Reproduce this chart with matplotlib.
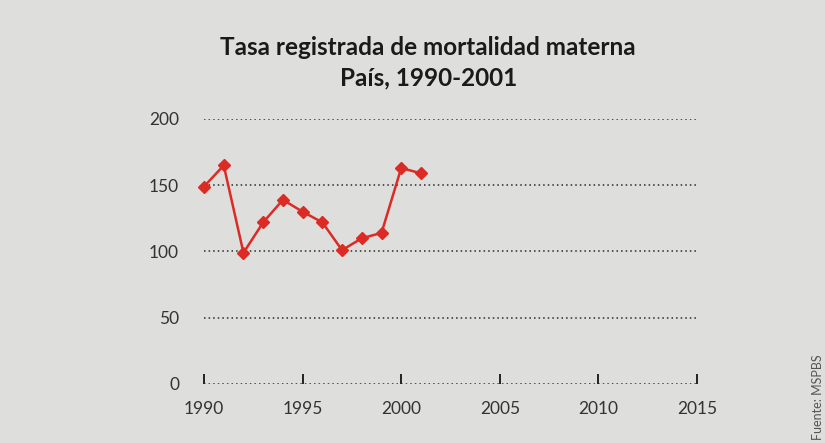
import matplotlib.pyplot as plt

# Tasa registrada de mortalidad materna, 1990-2001
years = [1990, 1991, 1992, 1993, 1994, 1995, 1996, 1997, 1998, 1999, 2000, 2001]
rate = [149, 165, 99, 122, 139, 130, 122, 101, 110, 114, 163, 159]

x_ticks = [1990, 1995, 2000, 2005, 2010, 2015]
y_ticks = [0, 50, 100, 150, 200]

bg = '#dededc'
red = '#dc2a24'

fig = plt.figure(figsize=(8.25, 4.43), dpi=100, facecolor=bg)
ax = fig.add_axes([0.2473, 0.1332, 0.5976, 0.5982], facecolor=bg)

# dotted grid lines
for y in y_ticks:
    ax.axhline(y, color='#2a2a2a', lw=1.1, linestyle=(0, (1, 2.0)), zorder=1)

ax.plot(years, rate, color=red, lw=1.8, marker='D', markersize=6,
        markerfacecolor=red, markeredgecolor=red, zorder=3, clip_on=False)

ax.set_xlim(1990, 2015)
ax.set_ylim(0, 200)
ax.set_xticks(x_ticks)
ax.set_yticks(y_ticks)
for s in ax.spines.values():
    s.set_visible(False)

ax.tick_params(axis='x', direction='in', length=7.5, width=1.4, color='#222222',
               pad=12, labelsize=12.5, labelcolor='#333333')
ax.tick_params(axis='y', length=0, pad=18, labelsize=12.5, labelcolor='#333333')
for lab in ax.get_xticklabels() + ax.get_yticklabels():
    lab.set_family('Lato')

fig.text(0.519, 0.893, 'Tasa registrada de mortalidad materna', ha='center', va='center',
         fontsize=17.5, fontweight='bold', family='Lato', color='#1a1a1a')
fig.text(0.519, 0.825, 'País, 1990-2001', ha='center', va='center',
         fontsize=17.5, fontweight='bold', family='Lato', color='#1a1a1a')

fig.text(0.991, 0.199, 'Fuente: MSPBS', rotation=90, ha='center', va='top',
         fontsize=9, family='Lato', color='#555555')

fig.savefig('out.png', dpi=100, facecolor=bg)
